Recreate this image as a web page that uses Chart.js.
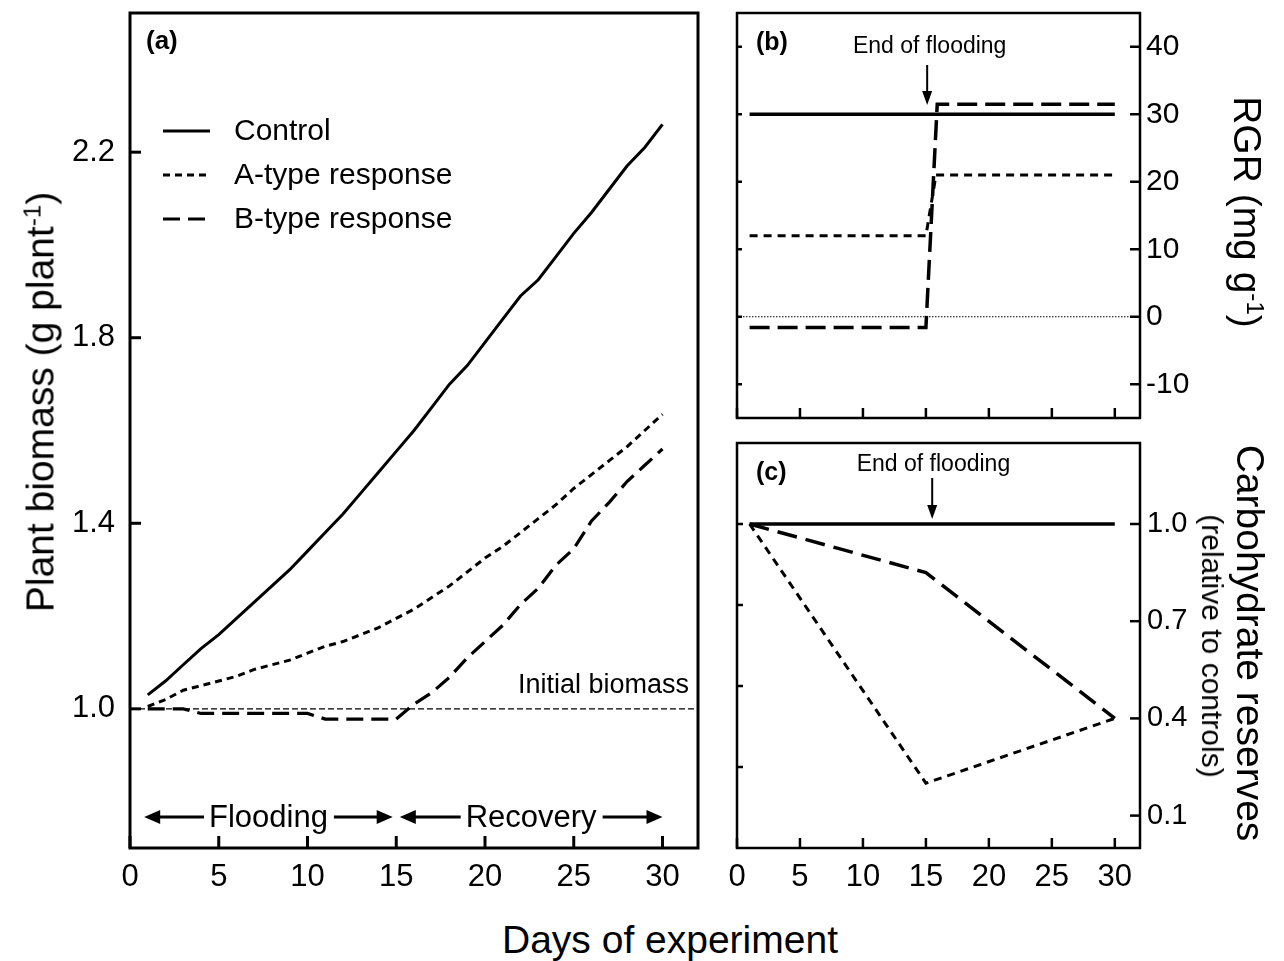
<!DOCTYPE html>
<html><head><meta charset="utf-8">
<script src="https://cdn.jsdelivr.net/npm/chart.js@4.4.1/dist/chart.umd.min.js"></script>
<style>
html,body{margin:0;padding:0;background:#fff;}
#wrap{position:relative;width:1284px;height:961px;overflow:hidden;background:#fff;font-family:"Liberation Sans",Arial,sans-serif;color:#000;}
canvas{position:absolute;}
.t{position:absolute;white-space:nowrap;line-height:1;color:#000;font-family:"Liberation Sans",Arial,sans-serif;}
.sup{position:relative;top:-0.55em;font-size:0.62em;}
</style></head><body>
<div id="wrap">
<canvas id="ca" width="720" height="900" style="left:0;top:0;width:720px;height:900px"></canvas>
<canvas id="cb" width="564" height="430" style="left:720px;top:0;width:564px;height:430px"></canvas>
<canvas id="cc" width="564" height="470" style="left:720px;top:430px;width:564px;height:470px"></canvas>
<div class="t" style="font-size:39px;left:40px;top:402px;transform:translate(-50%,-50%) rotate(-90deg)">Plant biomass (g plant<span class="sup">-1</span>)</div>
<div class="t" style="font-size:39px;left:502px;top:920px">Days of experiment</div>
<div class="t" style="font-size:39px;left:1247px;top:212px;transform:translate(-50%,-50%) rotate(90deg)">RGR (mg g<span class="sup">-1</span>)</div>
<div class="t" style="font-size:39px;left:1250px;top:643px;transform:translate(-50%,-50%) rotate(90deg)">Carbohydrate reserves</div>
<div class="t" style="font-size:30px;left:1212px;top:646px;transform:translate(-50%,-50%) rotate(90deg)">(relative to controls)</div>
</div>
<script>
// ---------- data ----------
const seriesNames = ['Control', 'A-type response', 'B-type response'];
const dayTicks = [0, 5, 10, 15, 20, 25, 30];

// panel (a): plant biomass (g plant-1)
const days = [1,2,3,4,5,6,7,8,9,10,11,12,13,14,15,16,17,18,19,20,21,22,23,24,25,26,27,28,29,30];
const controlBiomass = [1.03,1.06,1.095,1.13,1.16,1.195,1.23,1.265,1.30,1.34,1.38,1.42,1.465,1.51,1.555,1.60,1.65,1.70,1.74,1.79,1.84,1.89,1.925,1.975,2.025,2.07,2.12,2.17,2.21,2.26];
const aTypeBiomass = [1.005,1.02,1.04,1.05,1.06,1.07,1.085,1.095,1.105,1.12,1.135,1.145,1.16,1.175,1.195,1.215,1.24,1.265,1.295,1.325,1.35,1.38,1.41,1.44,1.475,1.505,1.535,1.565,1.60,1.635];
const bTypeBiomass = [1.0,1.0,1.0,0.99,0.99,0.99,0.99,0.99,0.99,0.99,0.978,0.978,0.978,0.978,0.978,1.01,1.035,1.068,1.11,1.145,1.18,1.225,1.26,1.31,1.345,1.405,1.445,1.49,1.525,1.56];
const biomassTicks = [1.0, 1.4, 1.8, 2.2];
const initialBiomass = 1.0;

// panel (b): RGR (mg g-1)
const rgrControlDays = [1, 30];
const rgrControl = [30, 30];
const rgrADays = [1, 15, 15.8, 30];
const rgrA = [12, 12, 21, 21];
const rgrBDays = [1, 15, 15.9, 30];
const rgrB = [-1.6, -1.6, 31.5, 31.5];
const rgrTicks = [-10, 0, 10, 20, 30, 40];

// panel (c): carbohydrate reserves (relative to controls)
const carbDays = [1, 15, 30];
const carbControl = [1.0, 1.0, 1.0];
const carbA = [1.0, 0.20, 0.40];
const carbB = [1.0, 0.85, 0.40];
const carbTicks = [0.1, 0.4, 0.7, 1.0];
const carbLeftTicks = [1, 2, 3, 4];

// ---------- helpers ----------
const FONT = '"Liberation Sans", Arial, sans-serif';
Chart.defaults.font.family = FONT;
Chart.defaults.color = '#000';
const pts = (xs, ys) => xs.map((x, i) => ({x: x, y: ys[i]}));
const setTicks = arr => s => { s.ticks = arr.map(v => ({value: v})); };
const fixSize = (w, h) => s => {
  if (w !== null) s.width = w;
  if (h !== null) s.height = h;
  s.paddingTop = 0; s.paddingBottom = 0; s.paddingLeft = 0; s.paddingRight = 0;
};

function ds(label, data, dash, w) {
  return {label, data, borderColor: '#000', backgroundColor: '#000', borderWidth: w,
    borderDash: dash, borderCapStyle: 'butt', pointRadius: 0, tension: 0, fill: false};
}

function arrowHead(ctx, x, y, dx, dy, len, hw) {
  const px = -dy, py = dx;
  ctx.beginPath();
  ctx.moveTo(x, y);
  ctx.lineTo(x - dx * len + px * hw, y - dy * len + py * hw);
  ctx.lineTo(x - dx * len - px * hw, y - dy * len - py * hw);
  ctx.closePath();
  ctx.fill();
}

const decor = {
  id: 'decor',
  beforeDatasetsDraw(chart, args, o) {
    const ctx = chart.ctx, ca = chart.chartArea;
    ctx.save();
    ctx.strokeStyle = '#000';
    (o.refLines || []).forEach(r => {
      const y = chart.scales[r.scale].getPixelForValue(r.value);
      ctx.lineWidth = r.width; ctx.setLineDash(r.dash);
      ctx.beginPath(); ctx.moveTo(ca.left, y); ctx.lineTo(ca.right, y); ctx.stroke();
    });
    ctx.restore();
  },
  afterDraw(chart, args, o) {
    const ctx = chart.ctx, ca = chart.chartArea;
    ctx.save();
    ctx.strokeStyle = '#000'; ctx.fillStyle = '#000'; ctx.setLineDash([]);
    (o.ticks || []).forEach(t => {
      const s = chart.scales[t.scale];
      ctx.lineWidth = t.width;
      s.ticks.forEach(tk => {
        const p = s.getPixelForValue(tk.value);
        ctx.beginPath();
        if (t.edge === 'bottom') { ctx.moveTo(p, ca.bottom); ctx.lineTo(p, ca.bottom - t.len); }
        else if (t.edge === 'left') { ctx.moveTo(ca.left, p); ctx.lineTo(ca.left + t.len, p); }
        else { ctx.moveTo(ca.right, p); ctx.lineTo(ca.right - t.len, p); }
        ctx.stroke();
      });
    });
    ctx.lineWidth = o.frame;
    ctx.strokeRect(ca.left, ca.top, ca.right - ca.left, ca.bottom - ca.top);
    (o.texts || []).forEach(t => {
      ctx.font = t.font; ctx.textAlign = t.align || 'left'; ctx.textBaseline = 'alphabetic';
      const x = t.xs ? chart.scales[t.xs].getPixelForValue(t.x) : t.x;
      const y = t.ys ? chart.scales[t.ys].getPixelForValue(t.y) + (t.dy || 0) : t.y;
      ctx.fillText(t.text, x, y);
    });
    (o.vArrows || []).forEach(a => {
      const x = chart.scales.x.getPixelForValue(a.x);
      ctx.lineWidth = 2;
      ctx.beginPath(); ctx.moveTo(x, a.y1); ctx.lineTo(x, a.y2 - 10); ctx.stroke();
      arrowHead(ctx, x, a.y2, 0, 1, 14, 5);
    });
    (o.spans || []).forEach(a => {
      const sx = chart.scales.x;
      const x1 = sx.getPixelForValue(a.from), x2 = sx.getPixelForValue(a.to);
      const y = a.y;
      ctx.font = a.font; ctx.textAlign = 'center'; ctx.textBaseline = 'middle';
      const mid = (x1 + x2) / 2;
      const w = ctx.measureText(a.label).width;
      ctx.fillText(a.label, mid, y + 1);
      ctx.lineWidth = 3;
      ctx.beginPath();
      ctx.moveTo(x1 + 10, y); ctx.lineTo(mid - w / 2 - 5, y);
      ctx.moveTo(mid + w / 2 + 6, y); ctx.lineTo(x2 - 10, y);
      ctx.stroke();
      arrowHead(ctx, x1, y, -1, 0, 16, 7);
      arrowHead(ctx, x2, y, 1, 0, 16, 7);
    });
    if (o.legend) {
      const L = o.legend;
      ctx.textAlign = 'left'; ctx.textBaseline = 'middle'; ctx.font = L.font;
      chart.data.datasets.forEach((d, i) => {
        const y = L.y + i * L.gap;
        ctx.lineWidth = d.borderWidth; ctx.setLineDash(d.borderDash || []);
        ctx.beginPath(); ctx.moveTo(L.x, y); ctx.lineTo(L.x + L.len, y); ctx.stroke();
        ctx.setLineDash([]);
        ctx.fillText(d.label, L.textX, y + 1);
      });
    }
    ctx.restore();
  }
};

const baseOpts = {responsive: false, animation: false, devicePixelRatio: 1, events: []};

// ---------- panel (a) ----------
new Chart(document.getElementById('ca'), {
  type: 'line',
  data: {datasets: [
    ds(seriesNames[0], pts(days, controlBiomass), [], 3),
    ds(seriesNames[1], pts(days, aTypeBiomass), [7, 5], 3),
    ds(seriesNames[2], pts(days, bTypeBiomass), [17, 8], 3.2)
  ]},
  options: Object.assign({}, baseOpts, {
    layout: {padding: {left: 0, top: 13, right: 22, bottom: 0}},
    scales: {
      x: {type: 'linear', min: 0, max: 32, position: 'bottom',
        grid: {display: false, drawTicks: false}, border: {display: false},
        afterBuildTicks: setTicks(dayTicks),
        afterFit: fixSize(null, 52),
        ticks: {font: {size: 31, family: FONT}, color: '#000', padding: 11, maxRotation: 0}},
      y: {type: 'linear', min: 0.7, max: 2.5, position: 'left',
        grid: {display: false, drawTicks: false}, border: {display: false},
        afterBuildTicks: setTicks(biomassTicks),
        afterFit: fixSize(130, null),
        ticks: {font: {size: 31, family: FONT}, color: '#000', padding: 15,
          callback: v => Number(v).toFixed(1)}}
    },
    plugins: {legend: {display: false}, tooltip: {enabled: false},
      decor: {
        frame: 3,
        refLines: [{scale: 'y', value: initialBiomass, width: 1.3, dash: [6, 3]}],
        ticks: [{scale: 'x', edge: 'bottom', len: 12, width: 3}, {scale: 'y', edge: 'left', len: 11, width: 3}],
        texts: [
          {text: '(a)', x: 146, y: 49, font: 'bold 26px ' + FONT},
          {text: 'Initial biomass', x: 689, y: initialBiomass, ys: 'y', dy: -16, font: '27px ' + FONT, align: 'right'}
        ],
        spans: [
          {from: 0.8, to: 14.8, y: 817, label: 'Flooding', font: '31px ' + FONT},
          {from: 15.2, to: 30, y: 817, label: 'Recovery', font: '31px ' + FONT}
        ],
        legend: {x: 163, len: 47, textX: 234, y: 131, gap: 44, font: '30px ' + FONT}
      }}
  }),
  plugins: [decor]
});

// ---------- panel (b) ----------
new Chart(document.getElementById('cb'), {
  type: 'line',
  data: {datasets: [
    ds(seriesNames[0], pts(rgrControlDays, rgrControl), [], 3.5),
    ds(seriesNames[1], pts(rgrADays, rgrA), [8, 6], 3),
    ds(seriesNames[2], pts(rgrBDays, rgrB), [20, 8], 3.5)
  ]},
  options: Object.assign({}, baseOpts, {
    layout: {padding: {left: 17, top: 13, right: 0, bottom: 0}},
    scales: {
      x: {type: 'linear', min: 0, max: 32, position: 'bottom',
        grid: {display: false, drawTicks: false}, border: {display: false},
        afterBuildTicks: setTicks(dayTicks),
        afterFit: fixSize(null, 12),
        ticks: {display: false}},
      y: {type: 'linear', min: -15, max: 45, position: 'right',
        grid: {display: false, drawTicks: false}, border: {display: false},
        afterBuildTicks: setTicks(rgrTicks),
        afterFit: fixSize(144, null),
        ticks: {font: {size: 30, family: FONT}, color: '#000', padding: 6}}
    },
    plugins: {legend: {display: false}, tooltip: {enabled: false},
      decor: {
        frame: 2.5,
        refLines: [{scale: 'y', value: 0, width: 1, dash: [1.5, 1.5]}],
        ticks: [{scale: 'x', edge: 'bottom', len: 10, width: 2.5},
                {scale: 'y', edge: 'right', len: 10, width: 2.5},
                {scale: 'y', edge: 'left', len: 5, width: 2.5}],
        texts: [
          {text: '(b)', x: 36, y: 50, font: 'bold 25px ' + FONT},
          {text: 'End of flooding', x: 15.3, xs: 'x', y: 53, font: '23px ' + FONT, align: 'center'}
        ],
        vArrows: [{x: 15.1, y1: 65, y2: 105}]
      }}
  }),
  plugins: [decor]
});

// ---------- panel (c) ----------
new Chart(document.getElementById('cc'), {
  type: 'line',
  data: {datasets: [
    ds(seriesNames[0], pts(carbDays, carbControl), [], 3.5),
    ds(seriesNames[1], pts(carbDays, carbA), [8, 6], 3),
    ds(seriesNames[2], pts(carbDays, carbB), [20, 9], 3.5)
  ]},
  options: Object.assign({}, baseOpts, {
    layout: {padding: {left: 17, top: 13, right: 0, bottom: 0}},
    scales: {
      x: {type: 'linear', min: 0, max: 32, position: 'bottom',
        grid: {display: false, drawTicks: false}, border: {display: false},
        afterBuildTicks: setTicks(dayTicks),
        afterFit: fixSize(null, 52),
        ticks: {font: {size: 31, family: FONT}, color: '#000', padding: 11, maxRotation: 0}},
      y: {type: 'linear', min: 0, max: 1.25, position: 'right',
        grid: {display: false, drawTicks: false}, border: {display: false},
        afterBuildTicks: setTicks(carbTicks),
        afterFit: fixSize(144, null),
        ticks: {font: {size: 29, family: FONT}, color: '#000', padding: 7,
          callback: v => Number(v).toFixed(1)}},
      yL: {type: 'linear', min: 0, max: 5, position: 'left', display: false,
        afterBuildTicks: setTicks(carbLeftTicks),
        afterFit: fixSize(0, null)}
    },
    plugins: {legend: {display: false}, tooltip: {enabled: false},
      decor: {
        frame: 2.5,
        ticks: [{scale: 'x', edge: 'bottom', len: 10, width: 2.5},
                {scale: 'y', edge: 'right', len: 10, width: 2.5},
                {scale: 'yL', edge: 'left', len: 6, width: 2.5}],
        texts: [
          {text: '(c)', x: 36, y: 50, font: 'bold 25px ' + FONT},
          {text: 'End of flooding', x: 15.6, xs: 'x', y: 41, font: '23px ' + FONT, align: 'center'}
        ],
        vArrows: [{x: 15.5, y1: 48, y2: 89}]
      }}
  }),
  plugins: [decor]
});
</script>
</body></html>
